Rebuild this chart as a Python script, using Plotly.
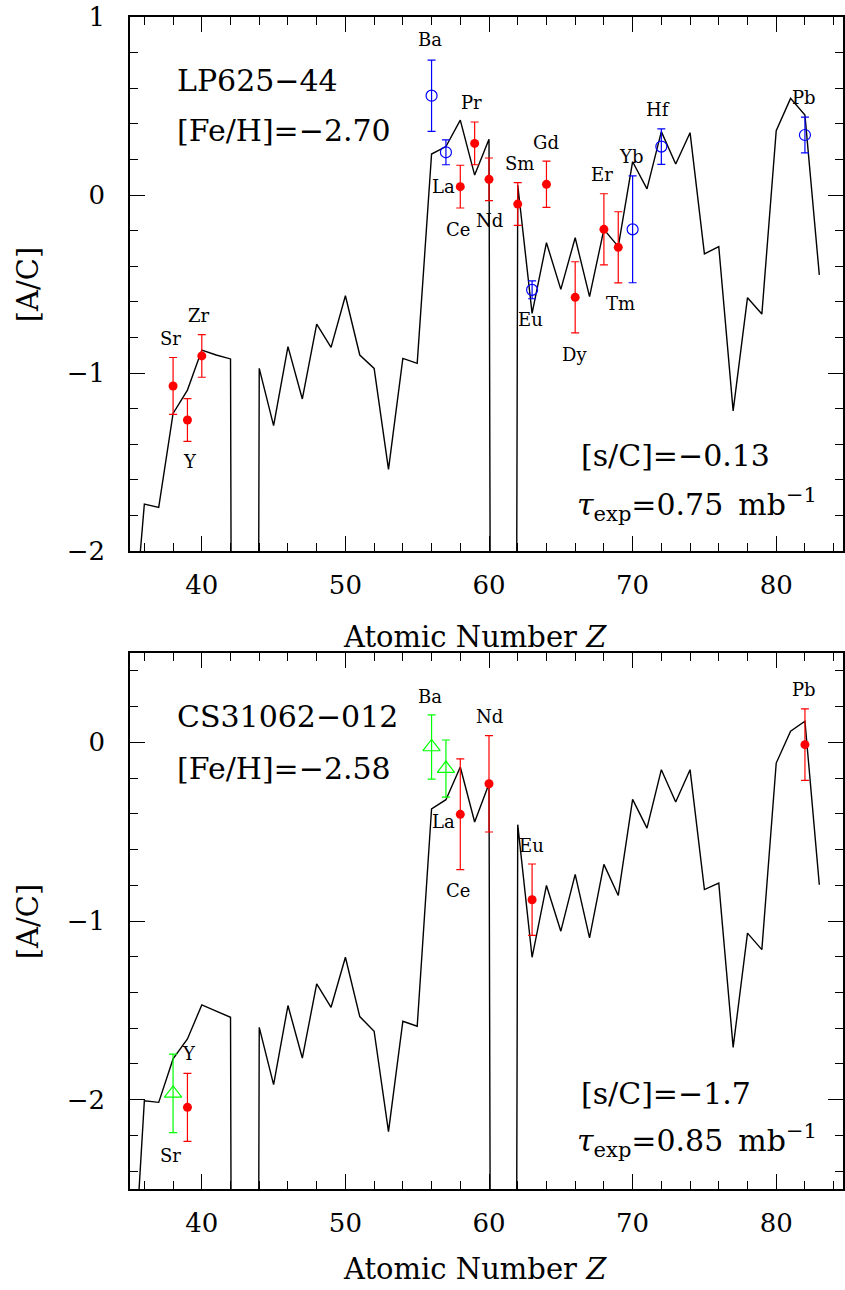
import plotly.graph_objects as go

# ---------------- data ----------------
Z = list(range(35, 84))

# model curve, LP625-44 (values below the frame where the curve leaves the plot)
model_top = [-2.69, -1.736, -1.755, -1.227, -1.096, -0.871, -0.899, -0.921, -30.0, -0.974,
             -1.296, -0.852, -1.146, -0.725, -0.856, -0.566, -0.899, -0.974, -1.541, -0.918,
             -0.946, 0.230, 0.272, 0.421, 0.112, 0.313, -30.0, 0.056, -0.665, -0.268,
             -0.530, -0.240, -0.571, -0.193, -0.290, 0.187, 0.034, 0.356, 0.174, 0.350,
             -0.331, -0.290, -1.213, -0.577, -0.669, 0.361, 0.543, 0.449, -0.449]

# model curve, CS31062-012
model_bot = [-3.35, -2.006, -2.015, -1.772, -1.660, -1.470, -1.505, -1.539, -30.0, -1.595,
             -1.916, -1.473, -1.767, -1.352, -1.483, -1.203, -1.535, -1.617, -2.179, -1.561,
             -1.589, -0.372, -0.321, -0.138, -0.446, -0.232, -30.0, -0.461, -1.203, -0.801,
             -1.057, -0.739, -1.094, -0.683, -0.857, -0.319, -0.480, -0.153, -0.334, -0.153,
             -0.824, -0.788, -1.707, -1.068, -1.160, -0.116, 0.062, 0.118, -0.797]

# observations, LP625-44
top_red_Z = [38, 39, 40, 58, 59, 60, 62, 64, 66, 68, 69]
top_red_v = [-1.073, -1.264, -0.904, 0.047, 0.290, 0.088, -0.051, 0.060, -0.575, -0.193, -0.294]
top_red_e = [0.16, 0.12, 0.12, 0.12, 0.12, 0.12, 0.12, 0.13, 0.20, 0.20, 0.20]

top_blue_Z = [56, 57, 63, 70, 72, 82]
top_blue_v = [0.558, 0.240, -0.533, -0.193, 0.272, 0.337]
top_blue_e = [0.20, 0.07, 0.05, 0.30, 0.10, 0.10]

# observations, CS31062-012
bot_red_Z = [39, 58, 60, 63, 82]
bot_red_v = [-2.043, -0.403, -0.232, -0.881, -0.013]
bot_red_e = [0.19, 0.31, 0.27, 0.20, 0.20]

bot_green_Z = [38, 56, 57]
bot_green_v = [-1.965, -0.026, -0.147]
bot_green_e = [0.22, 0.18, 0.16]

# element labels
top_label_names = ["Sr", "Y", "Zr", "Ba", "La", "Ce", "Pr", "Nd", "Sm", "Eu", "Gd",
                   "Dy", "Er", "Tm", "Yb", "Hf", "Pb"]
bot_label_names = ["Sr", "Y", "Ba", "La", "Ce", "Nd", "Eu", "Pb"]

# ---------------- placement (layout only) ----------------
top_label_pos = [(37.8, -0.805), (39.2, -1.498), (39.8, -0.678), (55.9, 0.871), (56.8, 0.045),
                 (57.85, -0.191), (58.8, 0.517), (60.0, -0.144), (62.1, 0.178), (62.9, -0.702),
                 (63.96, 0.296), (65.95, -0.895), (67.85, 0.118), (69.15, -0.609), (69.9, 0.219),
                 (71.8, 0.483), (81.9, 0.549)]
bot_label_pos = [(37.8, -2.314), (39.1, -1.744), (55.9, 0.254), (56.8, -0.441), (57.85, -0.829),
                 (60.0, 0.146), (62.95, -0.577), (81.9, 0.295)]

FONT = "DejaVu Serif"
RED = "#ff0000"
BLUE = "#0000ff"
GREEN = "#00ff00"

fig = go.Figure()

def add_panel(xa, ya, model, series):
    fig.add_trace(go.Scatter(x=Z, y=model, mode="lines", line=dict(color="black", width=1.4),
                             xaxis=xa, yaxis=ya, showlegend=False, hoverinfo="skip"))
    for zs, vs, es, sym, col, size, lw in series:
        fig.add_trace(go.Scatter(
            x=zs, y=vs, mode="markers", xaxis=xa, yaxis=ya, showlegend=False,
            marker=dict(symbol=sym, color=col, size=size, line=dict(color=col, width=lw)),
            error_y=dict(type="data", array=es, visible=True, color=col, thickness=1.2, width=4),
        ))

add_panel("x", "y", model_top, [
    (top_red_Z, top_red_v, top_red_e, "circle", RED, 9, 0),
    (top_blue_Z, top_blue_v, top_blue_e, "circle-open", BLUE, 11, 1.2),
])
add_panel("x2", "y2", model_bot, [
    (bot_red_Z, bot_red_v, bot_red_e, "circle", RED, 9, 0),
    (bot_green_Z, bot_green_v, bot_green_e, "triangle-up-open", GREEN, 15, 1.2),
])

label_font = dict(family=FONT, size=18, color="black")
annotations = []
for name, (zx, vy) in zip(top_label_names, top_label_pos):
    annotations.append(dict(x=zx, y=vy, xref="x", yref="y", text=name, showarrow=False,
                            xanchor="center", yanchor="middle", font=label_font))
for name, (zx, vy) in zip(bot_label_names, bot_label_pos):
    annotations.append(dict(x=zx, y=vy, xref="x2", yref="y2", text=name, showarrow=False,
                            xanchor="center", yanchor="middle", font=label_font))

big = dict(family=FONT, size=30, color="black")
def big_text(x, y, xr, yr, t):
    return dict(x=x, y=y, xref=xr, yref=yr, text=t, showarrow=False,
                xanchor="left", yanchor="middle", font=big)

annotations += [
    big_text(38.1, 0.646, "x", "y", "LP625\u221244"),
    big_text(38.1, 0.365, "x", "y", "[Fe/H]=\u22122.70"),
    big_text(66.25, -1.461, "x", "y", "[s/C]=\u22120.13"),
    big_text(66.0, -1.74, "x", "y",
             "<i>\u03c4</i><sub>exp</sub>=0.75\u2002mb<sup>\u22121</sup>"),
    big_text(38.1, 0.146, "x2", "y2", "CS31062\u2212012"),
    big_text(38.1, -0.146, "x2", "y2", "[Fe/H]=\u22122.58"),
    big_text(66.25, -1.966, "x2", "y2", "[s/C]=\u22121.7"),
    big_text(66.0, -2.23, "x2", "y2",
             "<i>\u03c4</i><sub>exp</sub>=0.85\u2002mb<sup>\u22121</sup>"),
]

# axis titles
title_font = dict(family=FONT, size=29, color="black")
PH = 1172.0
def ptitle(x, y, t, angle=0):
    return dict(x=x, y=y, xref="paper", yref="paper", text=t, textangle=angle,
                showarrow=False, xanchor="center", yanchor="middle", font=title_font)

annotations += [
    ptitle(0.484, (1189 - 637) / PH, "Atomic Number <i>Z</i>"),
    ptitle(0.484, (1189 - 1269) / PH, "Atomic Number <i>Z</i>"),
    ptitle((28 - 130) / 715.0, (1189 - 284) / PH, "[A/C]", -90),
    ptitle((28 - 130) / 715.0, (1189 - 921) / PH, "[A/C]", -90),
]

tickfont = dict(family=FONT, size=26, color="black")

def xaxis(anchor):
    return dict(anchor=anchor, domain=[0, 1], range=[35, 84.65], dtick=10, tick0=0,
                ticks="inside", ticklen=15, tickwidth=1.3, tickcolor="black",
                minor=dict(dtick=2, tick0=0, ticks="inside", ticklen=8, tickwidth=1.3,
                           tickcolor="black"),
                showline=True, linewidth=1.5, linecolor="black", mirror="ticks",
                showgrid=False, zeroline=False, tickfont=tickfont, ticklabelstandoff=10)

def yaxis(anchor, dom, rng):
    return dict(anchor=anchor, domain=dom, range=rng, dtick=1, tick0=0,
                ticks="inside", ticklen=15, tickwidth=1.3, tickcolor="black",
                minor=dict(dtick=0.2, tick0=0, ticks="inside", ticklen=8, tickwidth=1.3,
                           tickcolor="black"),
                showline=True, linewidth=1.5, linecolor="black", mirror="ticks",
                showgrid=False, zeroline=False, tickfont=tickfont, ticklabelstandoff=18)

fig.update_layout(
    width=845, height=1290,
    margin=dict(l=130, r=0, t=17, b=101, pad=0),
    paper_bgcolor="white", plot_bgcolor="white",
    xaxis=xaxis("y"), yaxis=yaxis("x", [(1189 - 551) / PH, 1.0], [-2, 1]),
    xaxis2=xaxis("y2"), yaxis2=yaxis("x2", [0.0, (1189 - 653) / PH], [-2.5, 0.5]),
    annotations=annotations,
    font=dict(family=FONT),
)

fig.write_html("out.html")
